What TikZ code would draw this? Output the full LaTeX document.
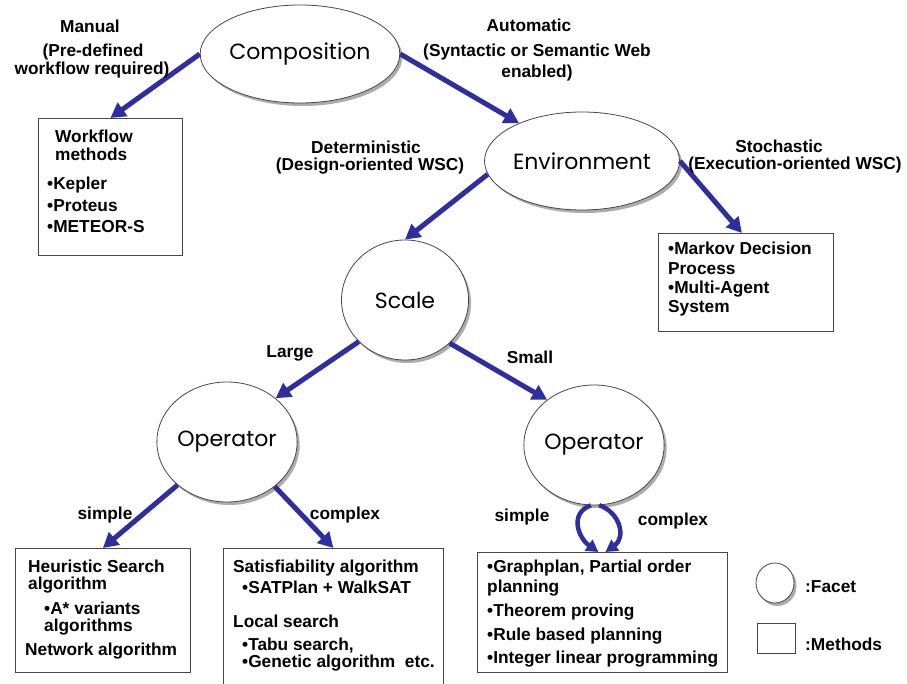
\documentclass[tikz,border=0pt]{standalone}
\usepackage{fontspec}
\setmainfont{Liberation Sans}
\newfontfamily\facetfont{Poppins}
\usetikzlibrary{arrows.meta,shadows,shapes.geometric}
\definecolor{arrowblue}{RGB}{46,46,158}
\definecolor{edgegray}{RGB}{70,70,70}
\begin{document}
\begin{tikzpicture}[x=1pt,y=-1pt,
  facet/.style={ellipse, draw=edgegray, line width=0.8pt, fill=white, inner sep=0pt,
    font=\facetfont\fontsize{22}{26}\selectfont,
    drop shadow={shadow xshift=2.5pt, shadow yshift=-3pt, fill=gray!65, opacity=1}},
  methodbox/.style={draw=edgegray, line width=0.8pt, fill=white, inner sep=0pt, anchor=north west},
  lbl/.style={font=\bfseries\fontsize{17.3}{19}\selectfont, anchor=base, inner sep=0pt},
  bt/.style={font=\bfseries\fontsize{17.3}{19}\selectfont, anchor=base west, inner sep=0pt},
  flow/.style={draw=arrowblue, line width=5pt, -{Triangle[length=15pt,width=16pt]}},
  loopflow/.style={draw=arrowblue, line width=4.5pt, -{Triangle[length=12pt,width=13pt]}}
]
\fill[white] (0,0) rectangle (907,684);
\useasboundingbox (0,0) rectangle (907,684);

% facets
\node[facet, minimum width=164pt, minimum height=98pt] (comp) at (300,54) {Composition};
\node[facet, minimum width=166pt, minimum height=98pt] (env) at (582,161) {Environment};
\node[facet, minimum width=127pt, minimum height=120pt] (scale) at (405,300) {Scale};
\node[facet, minimum width=129pt, minimum height=120pt] (opl) at (227,442) {Operator};
\node[facet, minimum width=130pt, minimum height=120pt] (opr) at (594,445) {Operator};

% method boxes
\node[methodbox, minimum width=144pt, minimum height=137pt] (wf) at (38,118) {};
\node[methodbox, minimum width=175pt, minimum height=98pt] (mdp) at (658,233) {};
\node[methodbox, minimum width=175pt, minimum height=124pt] (heur) at (15,548) {};
\node[methodbox, minimum width=220pt, minimum height=138pt] (sat) at (223,548) {};
\node[methodbox, minimum width=250pt, minimum height=120pt] (gp) at (477,552) {};

% legend
\node[facet, minimum width=38pt, minimum height=40pt,
  drop shadow={shadow xshift=2pt, shadow yshift=-2.5pt, fill=gray!65, opacity=1}] (legc) at (775,583) {};
\node[methodbox, minimum width=38pt, minimum height=30pt] (legb) at (757,623) {};
\node[bt] (legct) at (805,592) {:Facet};
\node[bt] (legbt) at (805,650) {:Methods};

% connectors
\draw[flow] (comp.west) -- (wf.north);
\draw[flow] (comp.east) -- (env.149);
\draw[flow] (env.188) -- (scale.north);
\draw[flow] (env.east) -- ([xshift=-4pt]mdp.north);
\draw[flow] (scale.222) -- (opl.42);
\draw[flow] (scale.316) -- (opr.136);
\draw[flow] (opl.221) -- (heur.north);
\draw[flow] (opl.317) -- (sat.north);
\coordinate (gpl) at ([xshift=-4pt]gp.north);
\coordinate (gpr) at ([xshift=3pt]gp.north);
\draw[loopflow] (opr.267) .. controls +(-22,8) and +(-20,-14) .. (gpl);
\draw[loopflow] (opr.275) .. controls +(22,8) and +(20,-14) .. (gpr);

% edge labels
\node[lbl] (l1a) at (90,33) {Manual};
\node[lbl] (l1b) at (93,57) {(Pre-defined};
\node[lbl] (l1c) at (92,75) {workflow required)};
\node[lbl] (l2a) at (529,32) {Automatic};
\node[lbl] (l2b) at (537,57) {(Syntactic or Semantic Web};
\node[lbl] (l2c) at (537,78) {enabled)};
\node[lbl] (l3a) at (366,154) {Deterministic};
\node[lbl] (l3b) at (370,171) {(Design-oriented WSC)};
\node[lbl] (l4a) at (779,153) {Stochastic};
\node[lbl] (l4b) at (795,170) {(Execution-oriented WSC)};
\node[lbl] (l5) at (290,357) {Large};
\node[lbl] (l6) at (530,363) {Small};
\node[lbl] (l7) at (105,519) {simple};
\node[lbl] (l8) at (345,519) {complex};
\node[lbl] (l9) at (522,521) {simple};
\node[lbl] (l10) at (673,525) {complex};

% box texts
\node[bt] (wf1) at (55,143) {Workflow};
\node[bt] (wf2) at (55,161) {methods};
\node[bt] (wf3) at (47,190) {•Kepler};
\node[bt] (wf4) at (47,212) {•Proteus};
\node[bt] (wf5) at (47,233) {•METEOR-S};

\node[bt] (md1) at (668,255) {•Markov Decision};
\node[bt] (md2) at (668,275) {Process};
\node[bt] (md3) at (668,294) {•Multi-Agent};
\node[bt] (md4) at (668,313) {System};

\node[bt] (he1) at (28,572) {Heuristic Search};
\node[bt] (he2) at (28,589) {algorithm};
\node[bt] (he3) at (44,614) {•A* variants};
\node[bt] (he4) at (44,631) {algorithms};
\node[bt] (he5) at (25,655) {Network algorithm};

\node[bt] (sa1) at (233,572) {Satisfiability algorithm};
\node[bt] (sa2) at (242,593) {•SATPlan + WalkSAT};
\node[bt] (sa3) at (233,627) {Local search};
\node[bt] (sa4) at (242,650) {•Tabu search,};
\node[bt] (sa5) at (242,667) {•Genetic algorithm\ \ etc.};

\node[bt] (gp1) at (487,572) {•Graphplan, Partial order};
\node[bt] (gp2) at (487,592) {planning};
\node[bt] (gp3) at (487,616) {•Theorem proving};
\node[bt] (gp4) at (487,640) {•Rule based planning};
\node[bt] (gp5) at (487,663) {•Integer linear programming};
\end{tikzpicture}
\end{document}
